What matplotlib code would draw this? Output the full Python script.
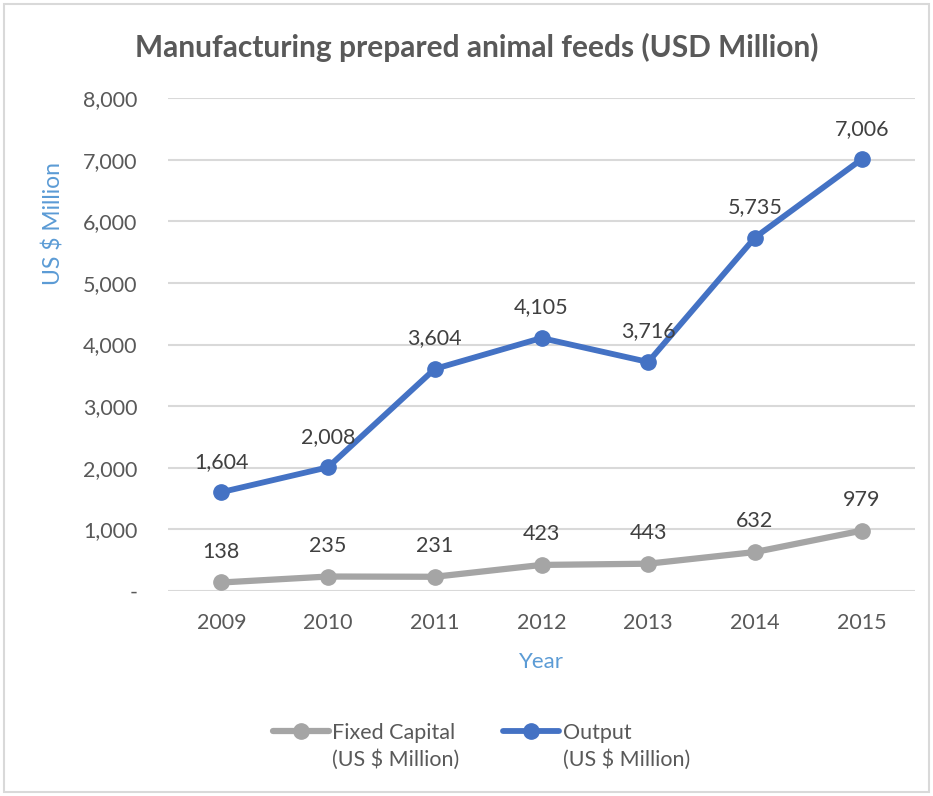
import matplotlib.pyplot as plt
from matplotlib.ticker import FuncFormatter
from matplotlib.patches import Rectangle

years = ["2009", "2010", "2011", "2012", "2013", "2014", "2015"]
fixed_capital = [138, 235, 231, 423, 443, 632, 979]
output = [1604, 2008, 3604, 4105, 3716, 5735, 7006]
series_names = ["Fixed Capital", "Output"]
unit_line = "(US $ Million)"

GRAY_TEXT = "#595959"
BLUE = "#4472C4"
GRAY = "#A5A5A5"
LABEL_BLUE = "#5B9BD5"

plt.rcParams["font.family"] = ["Lato", "DejaVu Sans"]

fig = plt.figure(figsize=(9.33, 7.96), dpi=100)
ax = fig.add_axes([168 / 933, 1 - 591 / 796, 747 / 933, 493 / 796])

x = list(range(len(years)))
ax.plot(x, fixed_capital, color=GRAY, lw=4.5, marker="o", ms=11,
        solid_capstyle="round", label=series_names[0], zorder=3)
ax.plot(x, output, color=BLUE, lw=4.2, marker="o", ms=11,
        solid_capstyle="round", label=series_names[1], zorder=3)

# data labels above each point
for series in (fixed_capital, output):
    for xi, v in zip(x, series):
        ax.annotate(f"{v:,}", (xi, v), xytext=(0, 22), textcoords="offset points",
                    ha="center", va="center", fontsize=15.5, color="#404040")

ax.set_xlim(-0.5, len(years) - 0.5)
ax.set_ylim(0, 8000)
ax.set_yticks(range(0, 8001, 1000))
ax.yaxis.set_major_formatter(FuncFormatter(lambda v, p: "-" if v == 0 else f"{int(v):,}"))
ax.set_xticks(x)
ax.set_xticklabels(years)
ax.grid(axis="y", color="#D9D9D9", lw=1.5)
ax.set_axisbelow(True)
for s in ax.spines.values():
    s.set_visible(False)
ax.tick_params(length=0, labelsize=15.5, colors=GRAY_TEXT)
ax.tick_params(axis="x", pad=16)
ax.tick_params(axis="y", pad=22)

ax.set_xlabel("Year", fontsize=16, color=LABEL_BLUE)
ax.xaxis.set_label_coords(0.5, -0.123)
ax.set_ylabel("US $ Million", fontsize=16.5, color=LABEL_BLUE)
ax.yaxis.set_label_coords(-0.138, 0.746)

fig.text(477 / 933, 1 - 47 / 796, "Manufacturing prepared animal feeds (USD Million)",
         ha="center", va="center", fontsize=21.5, fontweight="bold", color=GRAY_TEXT)

leg = fig.legend(loc="center", bbox_to_anchor=(452 / 933, 1 - 733 / 796), ncol=2,
                 frameon=False, fontsize=15.5, handlelength=2.6, handletextpad=0.15,
                 columnspacing=2.25, labelcolor=GRAY_TEXT)

# second line of each legend entry, under the first line
fig.canvas.draw()
inv = fig.transFigure.inverted()
for t in leg.get_texts():
    bb = t.get_window_extent()
    x0, y0 = inv.transform((bb.x0, bb.y0))
    fig.text(x0, y0 - 27 / 796, unit_line, ha="left", va="bottom",
             fontsize=15.5, color=GRAY_TEXT)

fig.patches.append(Rectangle((4 / 933, 4 / 796), 925 / 933, 788 / 796,
                             transform=fig.transFigure, fill=False,
                             edgecolor="#D9D9D9", lw=1.5))

fig.savefig("out.png", dpi=100)
